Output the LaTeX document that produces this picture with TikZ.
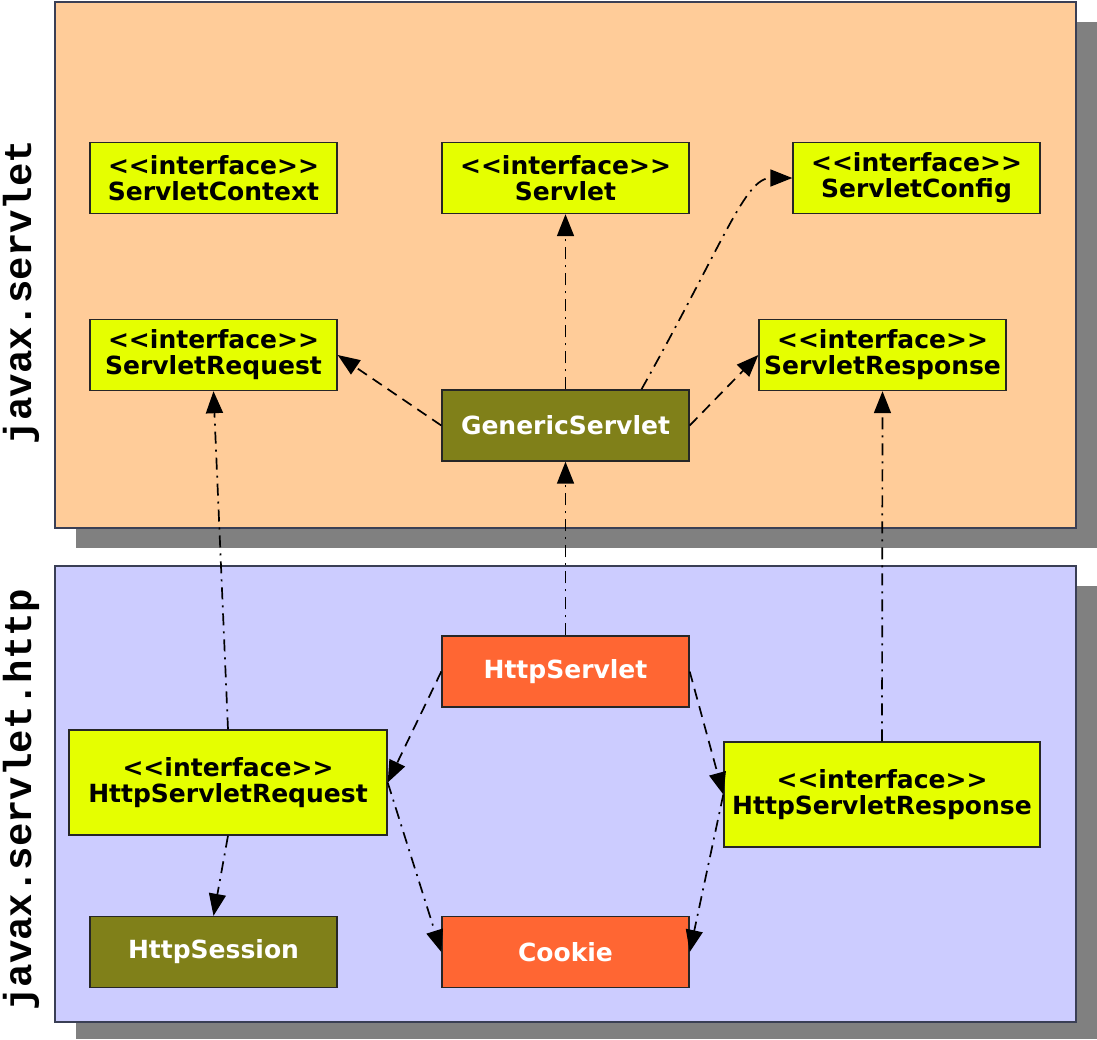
\documentclass[tikz,border=0pt]{standalone}
\usepackage{fontspec}
\setmainfont{DejaVu Sans}
\newfontfamily\monob{Liberation Mono}
\usetikzlibrary{arrows.meta,calc}
\definecolor{pkgA}{HTML}{FFCC99}
\definecolor{pkgB}{HTML}{CCCCFF}
\definecolor{ifc}{HTML}{E5FF00}
\definecolor{olivec}{HTML}{808019}
\definecolor{orng}{HTML}{FF6633}
\definecolor{shadowg}{HTML}{808080}
\definecolor{pkgline}{HTML}{3A3F55}
\newcommand{\ifcline}{<{}<interface>{}>}
\begin{document}
\begin{tikzpicture}[x=1pt,y=-1pt,
 box/.style={draw=black!85, line width=1.4pt, minimum width=247pt, minimum height=71pt, inner sep=0pt, align=center, font=\fontsize{25}{26}\selectfont\bfseries},
 ifbox/.style={box, fill=ifc, text=black},
 olbox/.style={box, fill=olivec, text=white},
 orbox/.style={box, fill=orng, text=white},
 pkg/.style={draw=pkgline, line width=1.3pt},
 shadowbox/.style={fill=shadowg},
 lbl/.style={rotate=90, font=\monob\bfseries\fontsize{39}{39}\selectfont},
 dsh/.style={draw, line width=1.7pt, dash pattern=on 11pt off 7pt, -{Triangle[length=22pt,width=17pt]}},
 ddot/.style={draw, line width=1.7pt, dash pattern=on 12pt off 6pt on 2pt off 6pt, -{Triangle[length=22pt,width=17pt]}},
]
\useasboundingbox (0,0) rectangle (1097,1039);
% packages
\fill[shadowbox] (76,22) rectangle (1097,548);
\draw[pkg, fill=pkgA] (55,2) rectangle (1076,528);
\fill[shadowbox] (76,586) rectangle (1097,1039);
\draw[pkg, fill=pkgB] (55,566) rectangle (1076,1022);
\node[lbl] (lab1) at (21,292) {javax.servlet};
\node[lbl] (lab2) at (21,800) {javax.servlet.http};
% javax.servlet
\node[ifbox] (sctx) at (213.5,178) {\ifcline\\ServletContext};
\node[ifbox] (srv) at (565.5,178) {\ifcline\\Servlet};
\node[ifbox] (scfg) at (916.5,178) {\ifcline\\ServletConfig};
\node[ifbox] (sreq) at (213.5,355) {\ifcline\\ServletRequest};
\node[ifbox] (sresp) at (882.5,355) {\ifcline\\ServletResponse};
\node[olbox] (gs) at (565.5,425.5) {GenericServlet};
% javax.servlet.http
\node[orbox] (hs) at (565.5,671.5) {HttpServlet};
\node[ifbox, minimum width=318pt, minimum height=105pt] (hreq) at (228,782.5) {\ifcline\\HttpServletRequest};
\node[ifbox, minimum width=316pt, minimum height=105pt] (hresp) at (882,794.5) {\ifcline\\HttpServletResponse};
\node[olbox] (hsess) at (213.5,952) {HttpSession};
\node[orbox] (ck) at (565.5,952) {Cookie};
% connectors
\draw[ddot] (gs.north) -- (srv.south);
\draw[ddot] ($(gs.north)+(76,0)$) .. controls (725,240) and (745,178) .. (scfg.west);
\draw[dsh] (gs.west) -- (sreq.east);
\draw[dsh] (gs.east) -- (sresp.west);
\draw[ddot] (hs.north) -- (gs.south);
\draw[ddot] (hreq.north) -- (sreq.south);
\draw[ddot] (hresp.north) -- (sresp.south);
\draw[dsh] (hs.west) -- (hreq.east);
\draw[dsh] (hs.east) -- (hresp.west);
\draw[ddot] (hreq.east) -- (ck.west);
\draw[ddot] (hresp.west) -- (ck.east);
\draw[ddot] (hreq.south) -- (hsess.north);
\end{tikzpicture}
\end{document}
